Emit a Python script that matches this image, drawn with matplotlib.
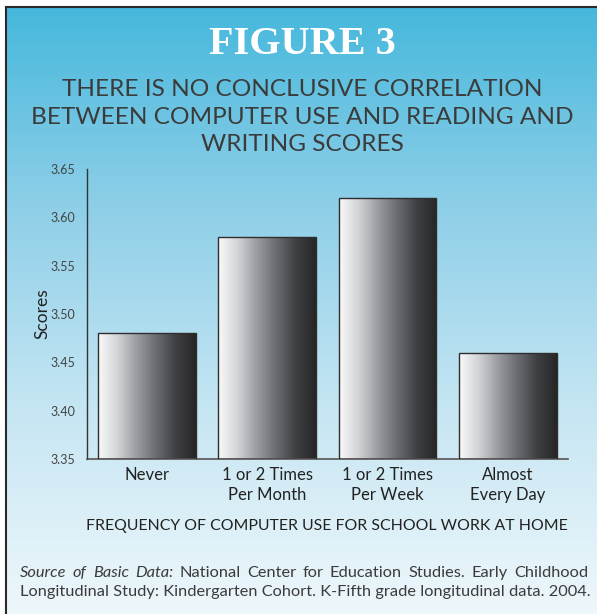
import numpy as np
import matplotlib
matplotlib.use("Agg")
import matplotlib.pyplot as plt
from matplotlib.colors import LinearSegmentedColormap

categories = ["Never", "1 or 2 Times\nPer Month", "1 or 2 Times\nPer Week", "Almost\nEvery Day"]
scores = [3.48, 3.58, 3.62, 3.46]
yticks = [3.35, 3.40, 3.45, 3.50, 3.55, 3.60, 3.65]

SANS = "Lato"
TXT = "#3b3b3b"

fig = plt.figure(figsize=(5.97, 6.14), dpi=100)

# fond degrade bleu
bg = fig.add_axes([6 / 597, 0, 1 - 6 / 597, 1 - 7 / 614], zorder=-5)
bg_cmap = LinearSegmentedColormap.from_list("bg", ["#46b8dc", "#8fcfe8", "#c6e6f3", "#eef7fb"])
grad = np.linspace(0, 1, 256).reshape(-1, 1)
bg.imshow(grad, aspect="auto", cmap=bg_cmap, extent=[0, 1, 0, 1], origin="upper")
bg.set_xlim(0, 1)
bg.set_ylim(0, 1)
bg.set_xticks([])
bg.set_yticks([])
for s in ["right", "bottom"]:
    bg.spines[s].set_visible(False)
for s in ["top", "left"]:
    bg.spines[s].set_color("#2a2a2a")
    bg.spines[s].set_linewidth(1.5)

ax = fig.add_axes([86.7 / 597, 1 - 459 / 614, (568 - 86.7) / 597, (459 - 169) / 614])
ax.patch.set_alpha(0)

x = np.arange(len(categories))
bars = ax.bar(x, np.array(scores) - 3.35, bottom=3.35, width=0.81,
              facecolor="none", edgecolor="#2e2e2e", linewidth=1.0, zorder=3)

bar_cmap = LinearSegmentedColormap.from_list(
    "bar", ["#fafafa", "#d2d3d6", "#9a9ba0", "#6a6b70", "#3e3f43", "#262626"])
hgrad = np.linspace(0, 1, 256).reshape(1, -1)
for b in bars:
    x0, y0 = b.get_x(), b.get_y()
    im = ax.imshow(hgrad, aspect="auto", cmap=bar_cmap,
                   extent=[x0, x0 + b.get_width(), y0, y0 + b.get_height()], zorder=2)
    im.set_clip_path(b)

ax.set_xlim(-0.5, 3.5)
ax.set_ylim(3.35, 3.65)
ax.set_yticks(yticks)
ax.set_yticklabels([f"{v:.2f}" for v in yticks])
ax.set_xticks(x)
ax.set_xticklabels(categories, fontsize=12, family=SANS, color="#222222", linespacing=1.3)
ax.tick_params(axis="y", length=0, pad=8, labelsize=9, labelcolor="#444444")
ax.tick_params(axis="x", length=0, pad=6)
for lab in ax.get_yticklabels():
    lab.set_family(SANS)
for s in ["top", "right"]:
    ax.spines[s].set_visible(False)
ax.spines["left"].set_color("#333333")
ax.spines["bottom"].set_color("#555555")
ax.spines["left"].set_linewidth(1.0)
ax.spines["bottom"].set_linewidth(1.2)
ax.set_ylabel("Scores", fontsize=12.5, family=SANS, color="#222222", labelpad=0)

fig.text(0.507, 1 - 45 / 614, "FIGURE 3", ha="center", va="center", fontsize=29,
         family="Liberation Serif", weight="bold", color="white")
fig.text(0.507, 1 - 117 / 614,
         "THERE IS NO CONCLUSIVE CORRELATION\nBETWEEN COMPUTER USE AND READING AND\nWRITING SCORES",
         ha="center", va="center", fontsize=17.6, family=SANS, color=TXT, linespacing=1.36)
fig.text(0.547, 1 - 526 / 614, "FREQUENCY OF COMPUTER USE FOR SCHOOL WORK AT HOME",
         ha="center", va="center", fontsize=11.4, family=SANS, color="#222222")

# note de source, justifiee sur la largeur
SRC_FS = 11.8
left_px, right_px = 20, 588
line1 = [("Source", "italic"), ("of", "italic"), ("Basic", "italic"), ("Data:", "italic"),
         ("National", "normal"), ("Center", "normal"), ("for", "normal"), ("Education", "normal"),
         ("Studies.", "normal"), ("Early", "normal"), ("Childhood", "normal")]
renderer = fig.canvas.get_renderer()
words = []
for w, st in line1:
    t = fig.text(0, 1 - 573 / 614, w, ha="left", va="center", fontsize=SRC_FS,
                 family=SANS, style=st, color=TXT)
    words.append(t)
widths = [t.get_window_extent(renderer).width for t in words]
gap = (right_px - left_px - sum(widths)) / (len(words) - 1)
xpos = left_px
for t, wd in zip(words, widths):
    t.set_x(xpos / 597)
    xpos += wd + gap
fig.text(left_px / 597, 1 - 592 / 614,
         "Longitudinal Study: Kindergarten Cohort. K-Fifth grade longitudinal data. 2004.",
         ha="left", va="center", fontsize=SRC_FS, family=SANS, color=TXT)

fig.savefig("out.png", dpi=100)
